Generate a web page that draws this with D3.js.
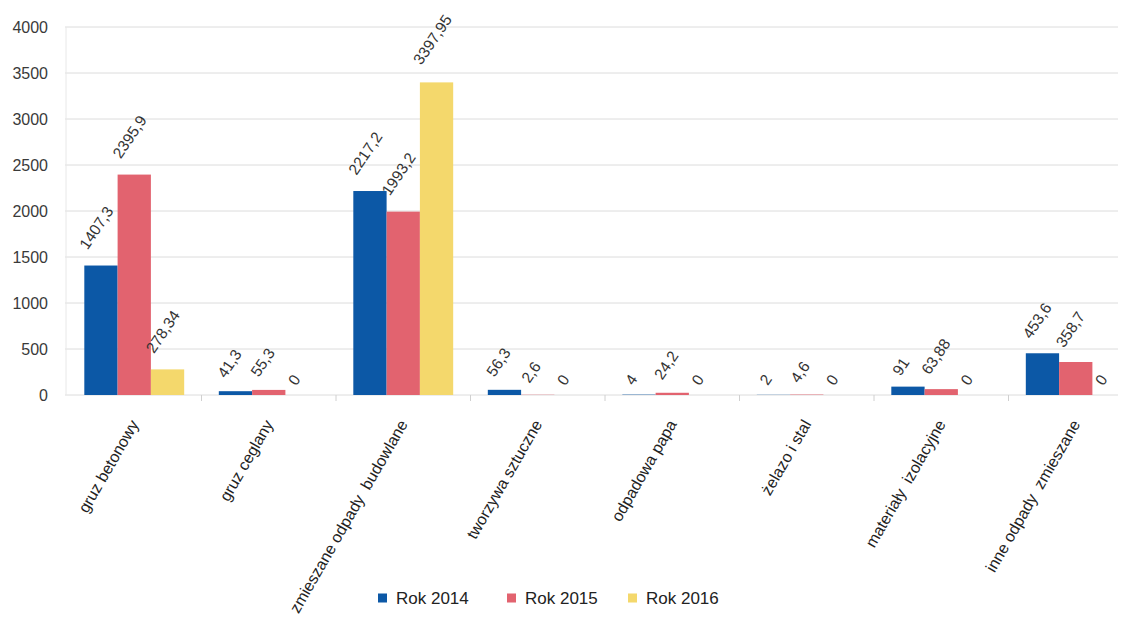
<!DOCTYPE html>
<html><head><meta charset="utf-8">
<script src="https://cdn.jsdelivr.net/npm/d3@7"></script>
<style>
html,body{margin:0;padding:0;background:#fff;}
text{font-family:"Liberation Sans",Arial,sans-serif;}
</style></head>
<body><svg id="c" width="1128" height="623"></svg>
<script>
const categories = ["gruz betonowy","gruz ceglany","zmieszane odpady  budowlane","tworzywa sztuczne","odpadowa papa","żelazo i stal","materiały  izolacyjne","inne odpady  zmieszane"];
const seriesNames = ["Rok 2014","Rok 2015","Rok 2016"];
const rok2014 = [1407.3, 41.3, 2217.2, 56.3, 4, 2, 91, 453.6];
const rok2015 = [2395.9, 55.3, 1993.2, 2.6, 24.2, 4.6, 63.88, 358.7];
const rok2016 = [278.34, 0, 3397.95, 0, 0, 0, 0, 0];
const labels2014 = ["1407,3","41,3","2217,2","56,3","4","2","91","453,6"];
const labels2015 = ["2395,9","55,3","1993,2","2,6","24,2","4,6","63,88","358,7"];
const labels2016 = ["278,34","0","3397,95","0","0","0","0","0"];
const yTicks = [0,500,1000,1500,2000,2500,3000,3500,4000];
const colors = ["#0c58a6","#e2636f","#f4d86c"];

const series = [rok2014, rok2015, rok2016];
const seriesLabels = [labels2014, labels2015, labels2016];

const svg = d3.select("#c");
const x0 = d3.scaleBand().domain(categories).range([67, 1143]).paddingInner(0).paddingOuter(0);
const x1 = d3.scaleBand().domain(seriesNames).range([0, x0.bandwidth()]).paddingOuter(0.52).paddingInner(0);
const y = d3.scaleLinear().domain([0, 4000]).range([395, 27]);

// gridlines
svg.append("g").selectAll("line").data(yTicks).join("line")
  .attr("x1", 65).attr("x2", 1118)
  .attr("y1", d => y(d)).attr("y2", d => y(d))
  .attr("stroke", "#dcdcdc").attr("stroke-width", 1);
svg.append("line").attr("x1", 66).attr("x2", 66).attr("y1", y(4000)).attr("y2", y(0))
  .attr("stroke", "#e8e8e8");

// y axis labels
const yAxis = d3.axisLeft(y).tickValues(yTicks).tickFormat(d3.format("d")).tickSize(0).tickPadding(0);
const ya = svg.append("g").attr("transform", "translate(48,0)").call(yAxis);
ya.select(".domain").remove();
ya.selectAll("text").attr("font-size", 16).attr("fill", "#3a3a3a").attr("dy", "0.35em")
  .style("font-family", "'Liberation Sans', Arial, sans-serif");

// category ticks below axis
const bounds = categories.map(c => x0(c)).concat([x0.range()[1]]);
svg.append("g").selectAll("line").data(bounds.slice(1, -1)).join("line")
  .attr("x1", d => d).attr("x2", d => d).attr("y1", y(0)).attr("y2", y(0) + 6)
  .attr("stroke", "#d0d0d0");

// bars
const groups = svg.append("g").selectAll("g").data(categories).join("g")
  .attr("transform", c => `translate(${x0(c)},0)`);
seriesNames.forEach((s, si) => {
  groups.append("rect")
    .attr("x", x1(s)).attr("width", x1.bandwidth())
    .attr("y", (c, i) => y(series[si][i]))
    .attr("height", (c, i) => y(0) - y(series[si][i]))
    .attr("fill", colors[si]);
});

// value labels
const ang = -56;
seriesNames.forEach((s, si) => {
  groups.append("text")
    .text((c, i) => seriesLabels[si][i])
    .attr("font-size", 15.5).attr("fill", "#333")
    .each(function(c, i) {
      const L = this.getComputedTextLength();
      const cx = x1(s) + x1.bandwidth() / 2;
      const tx = cx - 4 - 0.2 * L;
      const ty = y(series[si][i]) - 7 - 0.17 * L;
      d3.select(this).attr("transform", `translate(${tx},${ty}) rotate(${ang})`);
    });
});

// category labels
svg.append("g").selectAll("text").data(categories).join("text")
  .text(d => d)
  .attr("font-size", 16).attr("fill", "#222")
  .style("white-space", "pre")
  .attr("text-anchor", "end")
  .attr("transform", d => `translate(${x0(d) + x0.bandwidth() / 2 + 5},${y(0) + 29}) rotate(-60)`);

// legend
const legX = [378, 507, 628];
const leg = svg.append("g").selectAll("g").data(seriesNames).join("g")
  .attr("transform", (d, i) => `translate(${legX[i]},598)`);
leg.append("rect").attr("x", 0).attr("y", -4.5).attr("width", 9).attr("height", 9)
  .attr("fill", (d, i) => colors[i]);
leg.append("text").text(d => d).attr("x", 18).attr("y", 6).attr("font-size", 17).attr("fill", "#222");
</script></body></html>
